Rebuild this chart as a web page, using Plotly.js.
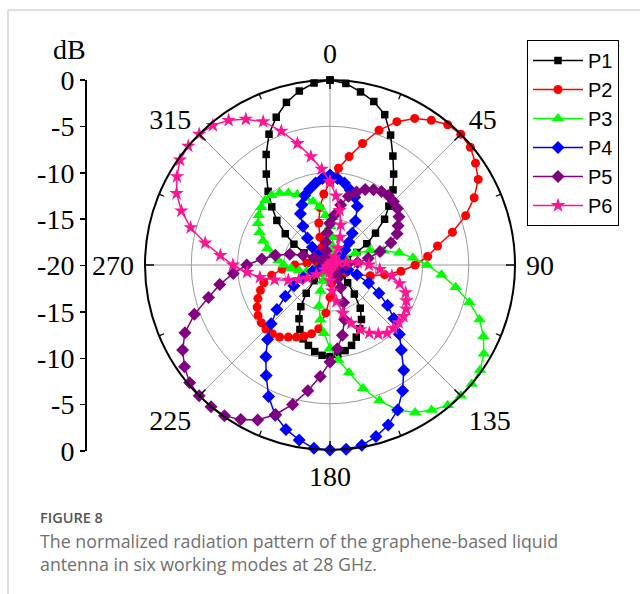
<!DOCTYPE html>
<html><head><meta charset="utf-8">
<script src="https://cdn.plot.ly/plotly-3.0.1.min.js"></script>
<style>html,body{margin:0;padding:0;background:#fff}#chart{width:640px;height:594px}</style>
</head><body><div id="chart"></div>
<script>
// ---- data ----
const angles = [0,5,10,15,20,25,30,35,40,45,50,55,
  60,65,70,75,80,85,90,95,100,105,110,115,
  120,125,130,135,140,145,150,155,160,165,170,175,
  180,185,190,195,200,205,210,215,220,225,230,235,
  240,245,250,255,260,265,270,275,280,285,290,295,
  300,305,310,315,320,325,330,335,340,345,350,355];

const seriesNames = ['P1','P2','P3','P4','P5','P6'];

const P1 = [0,-0.3,-1.0,-1.7,-2.7,-4.5,-6.4,-8.0,-9.4,-11.0,-12.3,-14.0,
  -15.4,-16.8,-18.0,-18.9,-19.5,-19.8,-19.9,-19.8,-19.6,-19.7,-19.9,-19.8,
  -19.5,-19.0,-18.3,-17.3,-15.9,-14.3,-13.2,-12.4,-11.7,-11.0,-10.6,-10.3,
  -10.1,-10.2,-10.5,-11.0,-11.5,-12.3,-13.3,-14.5,-16.0,-17.6,-18.7,-19.4,
  -19.8,-19.9,-19.7,-19.5,-19.6,-19.8,-19.9,-19.7,-19.4,-18.9,-18.0,-16.9,
  -15.5,-14.1,-12.5,-11.1,-9.6,-8.0,-6.2,-4.4,-3.0,-1.8,-0.9,-0.25];

const P2 = [-11.0,-9.5,-8.1,-6.4,-4.5,-2.9,-1.7,-0.9,-0.2,0,-0.2,-0.8,
  -1.5,-2.8,-4.4,-6.3,-8.2,-9.4,-10.8,-12.3,-14.0,-15.5,-16.9,-18.1,
  -19.0,-19.6,-19.9,-19.8,-19.5,-19.6,-19.8,-19.9,-19.8,-19.5,-19.0,-18.0,
  -16.5,-14.8,-13.0,-12.3,-11.8,-11.4,-11.0,-10.5,-10.3,-10.2,-10.3,-10.5,
  -10.9,-11.4,-12.0,-12.6,-13.6,-14.8,-16.2,-17.5,-18.6,-19.3,-19.7,-19.9,
  -19.8,-19.6,-19.5,-19.7,-19.6,-19.4,-18.8,-17.9,-16.8,-15.3,-13.7,-12.3];

const P3 = [-15.8,-17.0,-18.0,-18.9,-19.5,-19.8,-19.9,-19.8,-19.6,-19.5,-19.6,-19.0,
  -18.2,-17.0,-15.4,-14.0,-12.4,-11.0,-9.5,-7.9,-6.2,-4.4,-2.8,-1.7,
  -0.8,-0.2,0,0,-0.2,-0.85,-1.6,-2.7,-4.4,-6.2,-8.2,-9.7,
  -11.0,-12.6,-14.0,-15.4,-17.0,-18.1,-19.0,-19.6,-19.9,-19.8,-19.6,-19.6,
  -19.4,-18.9,-18.2,-17.4,-16.6,-15.8,-15.0,-14.4,-13.7,-13.0,-12.3,-11.6,
  -11.0,-10.6,-10.3,-10.1,-10.15,-10.5,-11.0,-11.6,-12.3,-12.9,-13.6,-14.6];

const P4 = [-10.3,-10.6,-11.0,-11.6,-12.2,-13.0,-14.5,-15.8,-16.8,-17.7,-18.6,-19.2,
  -19.6,-19.9,-19.8,-19.6,-19.5,-19.6,-19.4,-19.0,-18.6,-18.0,-16.9,-15.4,
  -13.9,-12.4,-11.0,-9.4,-8.0,-6.1,-4.3,-2.7,-1.6,-0.8,-0.2,0,
  0,-0.1,-0.8,-1.6,-2.7,-4.3,-6.2,-7.9,-9.5,-11.0,-12.5,-14.1,
  -15.5,-16.8,-18.0,-19.0,-19.6,-19.9,-19.8,-19.6,-19.5,-19.7,-19.8,-19.6,
  -19.2,-19.0,-18.3,-17.3,-16.2,-14.9,-13.6,-12.8,-12.0,-11.5,-11.0,-10.6];

const P5 = [-15.5,-14.6,-13.4,-12.3,-11.6,-11.0,-10.6,-10.3,-10.2,-10.3,-10.5,-10.9,
  -11.5,-12.0,-13.0,-14.4,-15.8,-17.0,-18.2,-19.0,-19.5,-19.8,-19.9,-19.7,
  -19.5,-19.6,-19.8,-19.7,-19.4,-19.0,-18.3,-17.3,-15.7,-13.9,-12.3,-10.9,
  -9.5,-7.9,-6.2,-4.4,-2.8,-1.5,-0.7,-0.1,0,0,-0.2,-0.8,
  -1.6,-2.7,-4.4,-6.4,-7.9,-9.5,-11.0,-12.6,-14.0,-15.5,-16.9,-18.1,
  -19.0,-19.5,-19.8,-19.9,-19.7,-19.5,-19.4,-19.5,-19.1,-18.4,-17.5,-16.5];

const P6 = [-11.0,-12.5,-14.0,-15.5,-16.8,-18.0,-19.0,-19.5,-19.8,-19.9,-19.7,-19.5,
  -19.6,-19.8,-19.5,-19.0,-18.2,-17.0,-15.8,-14.6,-13.2,-12.2,-11.3,-10.9,
  -10.5,-10.3,-10.3,-10.3,-10.4,-10.9,-11.5,-12.3,-13.3,-14.6,-16.0,-17.2,
  -18.3,-19.2,-19.6,-19.9,-19.8,-19.6,-19.5,-19.6,-19.8,-19.7,-19.2,-18.2,
  -17.2,-16.3,-15.2,-13.8,-12.3,-11.0,-9.5,-8.1,-6.3,-4.4,-2.9,-1.7,
  -0.9,-0.2,0,0,-0.3,-0.9,-1.8,-2.9,-4.6,-6.4,-8.1,-9.6];

const angularTickVals = [0,45,90,135,225,270,315];
const angularTickText = ['0','45','90','135','225','270','315'];
const bottomTickVals = [180];
const bottomTickText = ['180'];
const majorTickVals = [0,45,90,135,180,225,270,315];
const minorTickVals = [22.5,67.5,112.5,157.5,202.5,247.5,292.5,337.5];
const radialGridVals = [-15,-10,-5];
const scaleTickVals = [20,15,10,5,0,-5,-10,-15,-20];
const scaleTickText = ['0','-5','-10','-15','-20','-15','-10','-5','0'];
const scaleTitle = 'dB';
const captionLabel = 'FIGURE 8';
const captionText = 'The normalized radiation pattern of the graphene-based liquid<br>antenna in six working modes at 28 GHz.';

// ---- styles ----
const colors  = ['#000000','#ff0000','#00ff00','#0000ff','#800080','#ff1493'];
const symbols = ['square','circle','triangle-up','diamond','diamond','star'];
const sizes   = [7.5,9,11,10,10,11];
const SERIF = '"Liberation Serif","Times New Roman",serif';
const SANS = '"Liberation Sans",Arial,sans-serif';

const W = 640, H = 594;
const cx = 330, cy = 265, R = 185;
const dom = {x:[(cx-R)/W,(cx+R)/W], y:[1-(cy+R)/H, 1-(cy-R)/H]};

const series = [P1,P2,P3,P4,P5,P6];
const traces = series.map((vals,i)=>({
  type:'scatterpolar', subplot:'polar',
  r: vals.concat([vals[0]]), theta: angles.concat([angles[0]]),
  mode:'lines+markers', name: seriesNames[i], cliponaxis:false,
  line:{color:colors[i], width:1.5},
  marker:{symbol:symbols[i], size:sizes[i], color:colors[i], line:{width:0}}
}));
['polar2','polar3','polar4'].forEach(sp=>traces.push({type:'scatterpolar', subplot:sp, r:[], theta:[], showlegend:false, hoverinfo:'skip'}));
traces.push({type:'scatter', x:[], y:[], xaxis:'x', yaxis:'y', showlegend:false, hoverinfo:'skip'});

const labelPolar = (vals, text, len) => ({
  domain:dom, bgcolor:'rgba(0,0,0,0)',
  angularaxis:{rotation:90, direction:'clockwise', tickmode:'array', tickvals:vals,
    ticktext:text, showticklabels:true, ticks:'outside', ticklen:len,
    tickcolor:'rgba(0,0,0,0)', tickfont:{family:SERIF, size:28, color:'#000'},
    showgrid:false, showline:false},
  radialaxis:{visible:false, range:[-20,0]}
});

const layout = {
  width:W, height:H, margin:{l:0,r:0,t:0,b:0},
  paper_bgcolor:'#fff', plot_bgcolor:'rgba(0,0,0,0)',
  showlegend:true,
  polar:{
    domain:dom, bgcolor:'#fff',
    angularaxis:{rotation:90, direction:'clockwise', tickmode:'array', tickvals:majorTickVals,
      showticklabels:false, ticks:'inside', ticklen:8, tickwidth:1.5, tickcolor:'#000',
      showgrid:true, gridcolor:'#9a9a9a', gridwidth:1,
      showline:true, linecolor:'#000', linewidth:2},
    radialaxis:{range:[-20,0], tickmode:'array', tickvals:radialGridVals, showticklabels:false,
      ticks:'', showline:false, showgrid:true, gridcolor:'#9a9a9a', gridwidth:1}
  },
  polar2:{
    domain:dom, bgcolor:'rgba(0,0,0,0)',
    angularaxis:{rotation:90, direction:'clockwise', tickmode:'array', tickvals:minorTickVals,
      showticklabels:false, ticks:'inside', ticklen:5, tickwidth:1.2, tickcolor:'#000',
      showgrid:false, showline:false},
    radialaxis:{visible:false, range:[-20,0]}
  },
  polar3: labelPolar(angularTickVals, angularTickText, 5),
  polar4: labelPolar(bottomTickVals, bottomTickText, 2),
  xaxis:{domain:[86.5/W, 0.2], range:[0,1], visible:false, fixedrange:true},
  yaxis:{domain:[1-451/H, 1-80/H], range:[-20,20], anchor:'x', tickmode:'array',
    tickvals:scaleTickVals, ticktext:scaleTickText, ticks:'outside', ticklen:5, tickwidth:1.5,
    tickcolor:'#000', showline:true, linecolor:'#000', linewidth:1.5, showgrid:false,
    zeroline:false, fixedrange:true, tickfont:{family:SERIF, size:28, color:'#000'}},
  legend:{x:527/W, y:1-40/H, xanchor:'left', yanchor:'top', bordercolor:'#000', borderwidth:1,
    bgcolor:'#fff', font:{family:SANS, size:20, color:'#000'}, itemwidth:50, tracegroupgap:0},
  annotations:[
    {xref:'paper', yref:'paper', x:69/W, y:1-49/H, text:scaleTitle, showarrow:false,
      xanchor:'center', yanchor:'middle', font:{family:SERIF, size:28, color:'#000'}},
    {xref:'paper', yref:'paper', x:39/W, y:1-527.5/H, text:captionLabel, showarrow:false, borderpad:0,
      xanchor:'left', yanchor:'bottom', font:{family:'"Open Sans",sans-serif', size:14.5, color:'#555', weight:600}},
    {xref:'paper', yref:'paper', x:39/W, y:1-527.5/H, text:captionText, showarrow:false, align:'left', borderpad:0,
      xanchor:'left', yanchor:'top', font:{family:'"Open Sans",sans-serif', size:17.8, color:'#707070'}}
  ],
  shapes:[
    {type:'line', xref:'paper', yref:'paper', x0:8/W, x1:1, y0:1-10/H, y1:1-10/H, line:{color:'#d4d4d4', width:1.5}},
    {type:'line', xref:'paper', yref:'paper', x0:8/W, x1:8/W, y0:1-10/H, y1:0, line:{color:'#d4d4d4', width:1.5}}
  ]
};

Plotly.newPlot('chart', traces, layout, {staticPlot:true, displayModeBar:false});
</script>
</body></html>
